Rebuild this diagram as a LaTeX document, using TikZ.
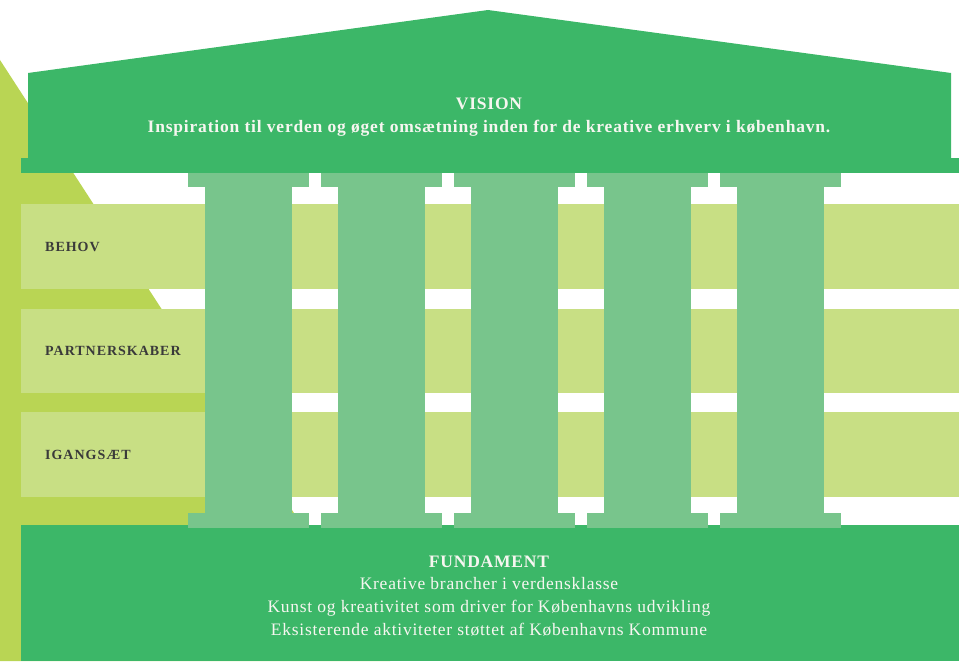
\documentclass[tikz,border=0pt]{standalone}
\usepackage{fontspec}
\setmainfont{Liberation Serif}
\newfontfamily\headspaced[LetterSpace=4.6]{Liberation Serif}
\newfontfamily\bodyspaced[LetterSpace=4.3]{Liberation Serif}
\newfontfamily\labelspaced[LetterSpace=7]{Liberation Serif}
\definecolor{darkgreen}{HTML}{3CB768}
\definecolor{colgreen}{HTML}{78C58C}
\definecolor{rowlime}{HTML}{C8DF84}
\definecolor{lime}{HTML}{B9D554}
\definecolor{labelgray}{HTML}{3A3A3A}
\definecolor{softwhite}{HTML}{F6F6F0}
\tikzset{
  rowlabel/.style={anchor=west,inner sep=0pt,font=\labelspaced\fontsize{14}{16}\selectfont\bfseries,text=labelgray},
  whitetext/.style={align=center,inner sep=0pt,text=softwhite},
  headfont/.style={font=\headspaced\fontsize{17.5}{20}\selectfont\bfseries},
  bodyfont/.style={font=\bodyspaced\fontsize{17.5}{23}\selectfont},
}
\begin{document}
\begin{tikzpicture}[x=1pt,y=-1pt]
\useasboundingbox (0,0) rectangle (966,661);
% lime triangle
\fill[lime] (0,60) -- (0,661) -- (390,661) -- cycle;
% rows
\foreach \t/\b in {204/289,309/393,412/497}{
  \fill[rowlime] (21,\t) rectangle (959,\b);
}
% foundation
\fill[darkgreen] (21,525) rectangle (959,661);
% roof
\fill[darkgreen] (28,158) -- (28,73) -- (488,10) -- (951,73) -- (951,158) -- cycle;
\fill[darkgreen] (21,158) rectangle (959,173);
% columns
\foreach \i in {0,...,4}{
  \pgfmathsetmacro{\dx}{133*\i}
  \fill[colgreen] (205+\dx,186) rectangle (292+\dx,514);
  \fill[colgreen] (188+\dx,173) rectangle (309+\dx,187);
  \fill[colgreen] (188+\dx,513) rectangle (309+\dx,528);
}
% texts
\node[whitetext,headfont] (vision) at (489,104) {VISION};
\node[whitetext,headfont] (visiontext) at (489,128) {Inspiration til verden og øget omsætning inden for de kreative erhverv i københavn.};
\node[rowlabel] (behov) at (45,247) {BEHOV};
\node[rowlabel] (partner) at (45,351) {PARTNERSKABER};
\node[rowlabel] (igang) at (45,455) {IGANGSÆT};
\node[whitetext,headfont] (fund) at (489,562) {FUNDAMENT};
\node[whitetext,bodyfont] (fundtext) at (489,607) {Kreative brancher i verdensklasse\\Kunst og kreativitet som driver for Københavns udvikling\\Eksisterende aktiviteter støttet af Københavns Kommune};
\end{tikzpicture}
\end{document}
